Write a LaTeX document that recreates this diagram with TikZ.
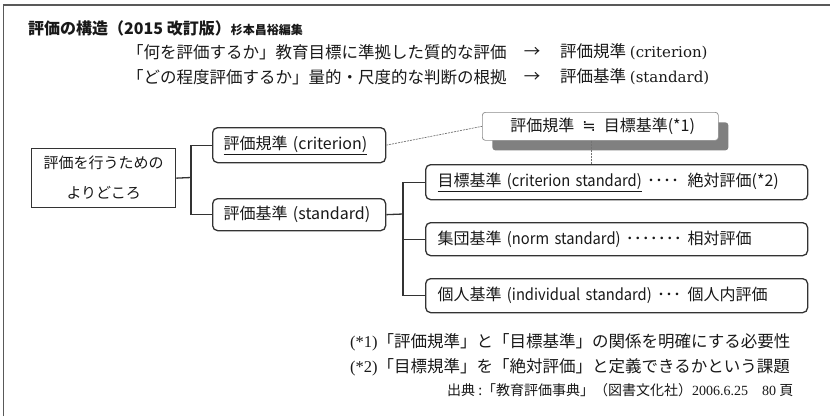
\documentclass[tikz,border=0pt]{standalone}
\usepackage{fontspec}
\setmainfont{Noto Sans CJK JP}
\newfontfamily\serifl{Liberation Serif}
\newfontfamily\serifw{DejaVu Serif}
\newfontfamily\symf{DejaVu Sans}
\newfontfamily\latn[FakeStretch=0.92]{Noto Sans CJK JP}
\usetikzlibrary{shadows}
\begin{document}
\begin{tikzpicture}[x=1pt,y=-1pt,
  conn/.style={draw=black!80, line width=1.3pt},
  thin/.style={draw=black!55, line width=0.7pt, dash pattern=on 2pt off 1pt},
  rbox/.style={draw=black!80, line width=1.3pt, rounded corners=5pt, fill=white,
    anchor=north west, inner xsep=11pt, inner ysep=0pt, align=left,
    font=\fontsize{16}{18}\selectfont, text=black!90},
  sqbox/.style={draw=black!80, line width=1.3pt, fill=white, anchor=north west,
    inner sep=0pt, align=center, font=\fontsize{15}{30}\selectfont, text=black!90},
  eqbox/.style={draw=black!45, line width=0.7pt, rounded corners=3pt, fill=white,
    anchor=north west, inner sep=0pt, align=left, font=\fontsize{16}{18}\selectfont,
    text=black!90,
    drop shadow={shadow xshift=10pt, shadow yshift=-10pt, fill=black!50, opacity=1}},
  toptext/.style={anchor=west, inner sep=0pt, font=\fontsize{16.5}{18}\selectfont, text=black!90},
  note/.style={anchor=west, inner sep=0pt, font=\fontsize{16.5}{18}\selectfont, text=black!90}
]
\useasboundingbox (0,0) rectangle (830,416);
% outer frame (left and top)
\draw[draw=black!65, line width=1.5pt] (3.5,416) -- (3.5,5) -- (830,5);

% title
\node[anchor=west, inner sep=0pt, text=black!90] (title) at (28,28)
  {\fontsize{16}{18}\selectfont\bfseries 評価の構造（2015 改訂版）\fontsize{12}{14}\selectfont 杉本昌裕編集};

% top explanation lines
\node[toptext] (l1a) at (127,52) {「何を評価するか」教育目標に準拠した質的な評価};
\node[toptext, anchor=center] (l1b) at (532,52) {→};
\node[toptext] (l1c) at (560,52) {評価規準 {\serifw\fontsize{15}{18}\selectfont (criterion)}};
\node[toptext] (l2a) at (127,77) {「どの程度評価するか」量的・尺度的な判断の根拠};
\node[toptext, anchor=center] (l2b) at (532,77) {→};
\node[toptext] (l2c) at (560,77) {評価基準 {\serifw\fontsize{15}{18}\selectfont (standard)}};

% boxes
\node[sqbox, minimum width=144pt, minimum height=59pt] (root) at (31,148)
  {評価を行うための\\よりどころ};
\node[rbox, text width=151pt, minimum height=35pt] (crit) at (212,127)
  {\underline{評価規準 (criterion)}};
\node[rbox, text width=151pt, minimum height=32pt] (std) at (212,198)
  {評価基準 (standard)};
\node[eqbox, text width=236pt, minimum height=28pt] (eq) at (482,112)
  {\hspace*{28pt}評価規準\enspace{\symf ≒}\enspace 目標基準(*1)};
\node[rbox, inner xsep=12pt, text width=358pt, minimum height=35pt] (t1) at (425,164)
  {\makebox[250pt][l]{\underline{目標基準 {\latn (criterion standard)}} ････}絶対評価(*2)};
\node[rbox, inner xsep=12pt, text width=358pt, minimum height=33pt] (t2) at (425,222)
  {\makebox[250pt][l]{集団基準 {\latn (norm standard)} ･･･････}相対評価};
\node[rbox, inner xsep=12pt, text width=358pt, minimum height=34pt] (t3) at (425,278)
  {\makebox[250pt][l]{個人基準 {\latn (individual standard)} ･･･}個人内評価};

% connectors
\coordinate (ja) at (191,177.5);
\coordinate (jb) at (403,214);
\draw[conn] (root.east) -- (ja);
\draw[conn] (crit.west) -| (ja) |- (std.west);
\draw[conn] (std.east) -- (jb);
\draw[conn] (t1.west) -| (jb) |- (t3.west);
\draw[conn] (t2.west) -- (t2.west -| jb);
\draw[thin] (crit.east) -- (eq.west);
\draw[thin] ([xshift=-9pt]eq.south) -- ([xshift=-9pt]eq.south |- t1.north);

% notes
\node[note] (n1) at (350,342) {{\serifl (*1)}「評価規準」と「目標基準」の関係を明確にする必要性};
\node[note] (n2) at (350,367) {{\serifl (*2)}「目標規準」を「絶対評価」と定義できるかという課題};
\node[anchor=west, inner sep=0pt, text=black!90, font=\fontsize{14}{16}\selectfont] (src) at (447,390)
  {出典 :「教育評価事典」（図書文化社）{\serifl 2006.6.25}\hspace{14pt}{\serifl 80} 頁};
\end{tikzpicture}
\end{document}
